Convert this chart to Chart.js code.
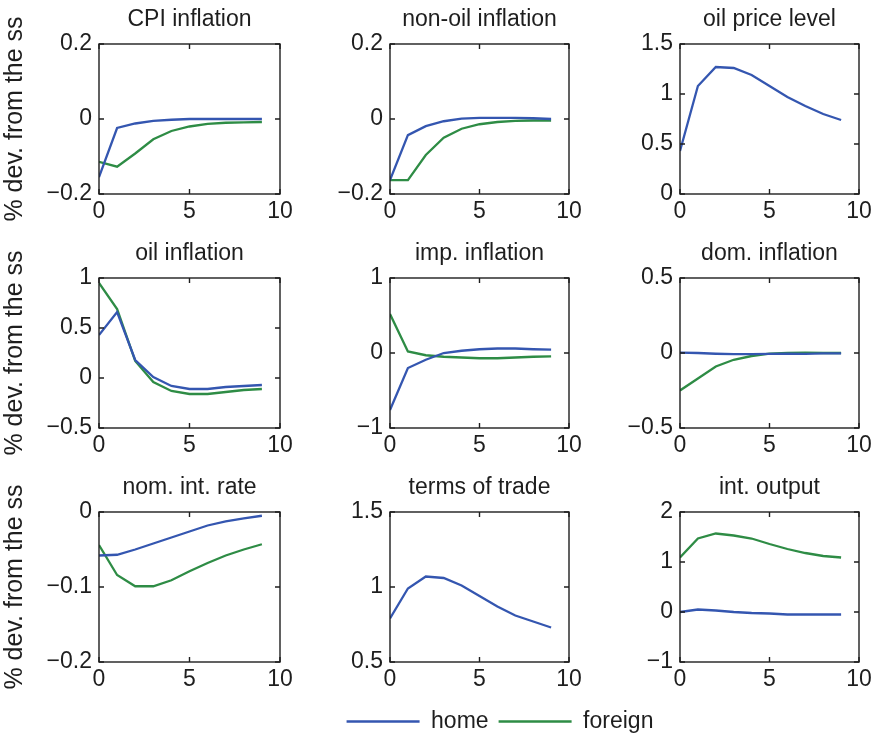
<!DOCTYPE html>
<html>
<head>
<meta charset="utf-8">
<script src="https://cdn.jsdelivr.net/npm/chart.js@4/dist/chart.umd.min.js"></script>
<style>
  html, body { margin: 0; padding: 0; background: #fff; }
  #fig { position: relative; width: 879px; height: 734px; overflow: hidden; background: #fff; }
  #fig canvas { position: absolute; }
</style>
</head>
<body>
<div id="fig"></div>
<script>
// Horizon (quarters after the shock) and axis tick labels
const periods = [0, 1, 2, 3, 4, 5, 6, 7, 8, 9];
const xTicks = [0, 5, 10];

// Impulse responses, % deviation from the steady state
const cpiHome        = [-0.155, -0.024, -0.012, -0.005, -0.002, 0.0, 0.0, 0.0, 0.0, 0.0];
const cpiForeign     = [-0.114, -0.127, -0.092, -0.054, -0.032, -0.020, -0.013, -0.010, -0.009, -0.008];
const nonOilHome     = [-0.163, -0.043, -0.019, -0.006, 0.001, 0.003, 0.003, 0.003, 0.002, 0.0];
const nonOilForeign  = [-0.163, -0.163, -0.096, -0.050, -0.026, -0.014, -0.008, -0.005, -0.004, -0.004];
const oilPriceHome   = [0.43, 1.08, 1.27, 1.26, 1.19, 1.08, 0.97, 0.88, 0.80, 0.74];
const oilInflHome    = [0.43, 0.66, 0.18, 0.01, -0.08, -0.11, -0.11, -0.09, -0.08, -0.07];
const oilInflForeign = [0.95, 0.69, 0.17, -0.04, -0.13, -0.16, -0.16, -0.14, -0.12, -0.11];
const impHome        = [-0.76, -0.20, -0.09, 0.0, 0.03, 0.05, 0.06, 0.06, 0.05, 0.045];
const impForeign     = [0.52, 0.02, -0.03, -0.05, -0.06, -0.07, -0.07, -0.06, -0.05, -0.045];
const domHome        = [0.003, 0.0, -0.005, -0.008, -0.008, -0.006, -0.005, -0.006, -0.003, -0.002];
const domForeign     = [-0.25, -0.17, -0.09, -0.045, -0.02, -0.004, 0.0, 0.002, 0.0, 0.0];
const nomRateHome    = [-0.058, -0.057, -0.050, -0.042, -0.034, -0.026, -0.018, -0.0125, -0.0085, -0.005];
const nomRateForeign = [-0.044, -0.084, -0.099, -0.099, -0.091, -0.079, -0.068, -0.058, -0.050, -0.043];
const totHome        = [0.79, 0.99, 1.07, 1.06, 1.01, 0.94, 0.87, 0.81, 0.77, 0.73];
const outputHome     = [0.0, 0.05, 0.03, 0.0, -0.02, -0.03, -0.05, -0.05, -0.05, -0.05];
const outputForeign  = [1.09, 1.47, 1.57, 1.53, 1.47, 1.36, 1.26, 1.18, 1.12, 1.09];

// Panel titles and y tick labels
const panelTitles = ['CPI inflation', 'non-oil inflation', 'oil price level',
                     'oil inflation', 'imp. inflation', 'dom. inflation',
                     'nom. int. rate', 'terms of trade', 'int. output'];
const yTicksCpi      = [-0.2, 0, 0.2];
const yTicksNonOil   = [-0.2, 0, 0.2];
const yTicksOilPrice = [0, 0.5, 1, 1.5];
const yTicksOilInfl  = [-0.5, 0, 0.5, 1];
const yTicksImp      = [-1, 0, 1];
const yTicksDom      = [-0.5, 0, 0.5];
const yTicksNomRate  = [-0.2, -0.1, 0];
const yTicksTot      = [0.5, 1, 1.5];
const yTicksOutput   = [-1, 0, 1, 2];

const seriesNames = ['home', 'foreign'];
const yAxisLabel = '% dev. from the ss';

// ---- styling ----
const HOME_COLOR = '#3456b0';
const FOREIGN_COLOR = '#2e8c45';
const INK = '#1e1e1e';
const FONT = 'Liberation Sans, Arial, Helvetica, sans-serif';
const FS = 23;        // ticks, titles, legend
const FS_YLABEL = 25; // shared y-axis label

const panels = [
  { home: cpiHome,      foreign: cpiForeign,     yTicks: yTicksCpi },
  { home: nonOilHome,   foreign: nonOilForeign,  yTicks: yTicksNonOil },
  { home: oilPriceHome, foreign: null,           yTicks: yTicksOilPrice },
  { home: oilInflHome,  foreign: oilInflForeign, yTicks: yTicksOilInfl },
  { home: impHome,      foreign: impForeign,     yTicks: yTicksImp },
  { home: domHome,      foreign: domForeign,     yTicks: yTicksDom },
  { home: nomRateHome,  foreign: nomRateForeign, yTicks: yTicksNomRate },
  { home: totHome,      foreign: null,           yTicks: yTicksTot },
  { home: outputHome,   foreign: outputForeign,  yTicks: yTicksOutput },
];

// grid geometry of the 3x3 figure (plot-area edges in page pixels)
const colCanvasLeft = [0, 290, 580];
const colPlotLeft   = [99, 390, 680];
const colPlotRight  = [280, 569, 859];
const rowCanvasTop  = [0, 235, 470];
const rowPlotTop    = [44, 278, 512];
const rowPlotBottom = [194, 428, 662];
const RIGHT_PAD = 20, X_AXIS_H = 40;

function fmt(v) {
  const r = Math.round(v * 1000) / 1000;
  return String(r).replace('-', '\u2212');
}

// MATLAB-style boxed axes with inward tick marks
const boxPlugin = {
  id: 'box',
  afterDraw(chart) {
    const { ctx, chartArea: a, scales } = chart;
    if (!scales.x) return;
    const L = 5;
    ctx.save();
    ctx.strokeStyle = INK;
    ctx.lineWidth = 1.4;
    ctx.strokeRect(a.left, a.top, a.right - a.left, a.bottom - a.top);
    ctx.beginPath();
    scales.x.ticks.forEach(t => {
      const px = scales.x.getPixelForValue(t.value);
      ctx.moveTo(px, a.bottom); ctx.lineTo(px, a.bottom - L);
      ctx.moveTo(px, a.top); ctx.lineTo(px, a.top + L);
    });
    scales.y.ticks.forEach(t => {
      const py = scales.y.getPixelForValue(t.value);
      ctx.moveTo(a.left, py); ctx.lineTo(a.left + L, py);
      ctx.moveTo(a.right, py); ctx.lineTo(a.right - L, py);
    });
    ctx.stroke();
    ctx.restore();
  }
};

const fig = document.getElementById('fig');

function addCanvas(left, top, w, h) {
  const cv = document.createElement('canvas');
  cv.width = w; cv.height = h;
  cv.style.left = left + 'px'; cv.style.top = top + 'px';
  cv.style.width = w + 'px'; cv.style.height = h + 'px';
  fig.appendChild(cv);
  return cv;
}

panels.forEach((p, i) => {
  const r = Math.floor(i / 3), c = i % 3;
  const left = colCanvasLeft[c], top = rowCanvasTop[r];
  const yW = colPlotLeft[c] - left;
  const w = colPlotRight[c] - left + RIGHT_PAD;
  const titleH = rowPlotTop[r] - top;
  const h = rowPlotBottom[r] - top + X_AXIS_H;
  const cv = addCanvas(left, top, w, h);

  const datasets = [{
    label: seriesNames[0], data: p.home,
    borderColor: HOME_COLOR, borderWidth: 2.3, pointRadius: 0, tension: 0, fill: false
  }];
  if (p.foreign) {
    datasets.push({
      label: seriesNames[1], data: p.foreign,
      borderColor: FOREIGN_COLOR, borderWidth: 2.3, pointRadius: 0, tension: 0, fill: false
    });
  }
  const yt = p.yTicks;
  const titleLine = FS * 1.2;
  const titlePadBottom = 11;

  new Chart(cv, {
    type: 'line',
    data: { labels: periods, datasets },
    options: {
      responsive: false, animation: false, events: [],
      layout: { padding: { left: 0, right: RIGHT_PAD, top: 0, bottom: 0 } },
      plugins: {
        legend: { display: false },
        tooltip: { enabled: false },
        title: {
          display: true, fullSize: false, text: panelTitles[i], color: INK,
          font: { family: FONT, size: FS, weight: 'normal' },
          padding: { top: titleH - titleLine - titlePadBottom, bottom: titlePadBottom }
        }
      },
      scales: {
        x: {
          type: 'linear', min: 0, max: 10,
          afterBuildTicks: s => { s.ticks = xTicks.map(v => ({ value: v })); },
          afterFit: s => { s.height = X_AXIS_H; },
          grid: { display: false, drawTicks: false },
          border: { display: false },
          ticks: { color: INK, padding: 4, maxRotation: 0, font: { family: FONT, size: FS },
                   callback: v => fmt(v) }
        },
        y: {
          type: 'linear', min: yt[0], max: yt[yt.length - 1],
          afterBuildTicks: s => { s.ticks = yt.map(v => ({ value: v })); },
          afterFit: s => { s.width = yW; },
          grid: { display: false, drawTicks: false },
          border: { display: false },
          title: {
            display: c === 0, text: yAxisLabel, color: INK,
            font: { family: FONT, size: FS_YLABEL },
            padding: { top: 0, bottom: 0 }
          },
          ticks: { color: INK, padding: 7, font: { family: FONT, size: FS },
                   callback: v => fmt(v) }
        }
      }
    },
    plugins: [boxPlugin]
  });
});

// shared legend beneath the grid (canvas runs past the page edge; only the legend row shows)
(function () {
  const cv = addCanvas(300, 700, 400, 120);
  new Chart(cv, {
    type: 'line',
    data: {
      labels: periods,
      datasets: [
        { label: seriesNames[0], data: [], borderColor: HOME_COLOR, backgroundColor: HOME_COLOR, borderWidth: 2.3 },
        { label: seriesNames[1], data: [], borderColor: FOREIGN_COLOR, backgroundColor: FOREIGN_COLOR, borderWidth: 2.3 }
      ]
    },
    options: {
      responsive: false, animation: false, events: [],
      layout: { padding: 0 },
      scales: { x: { display: false }, y: { display: false } },
      plugins: {
        tooltip: { enabled: false },
        legend: {
          display: true, position: 'top',
          labels: {
            usePointStyle: true, pointStyle: 'line', pointStyleWidth: 73,
            padding: 10, color: INK,
            font: { family: FONT, size: FS }
          }
        }
      }
    }
  });
})();
</script>
</body>
</html>
